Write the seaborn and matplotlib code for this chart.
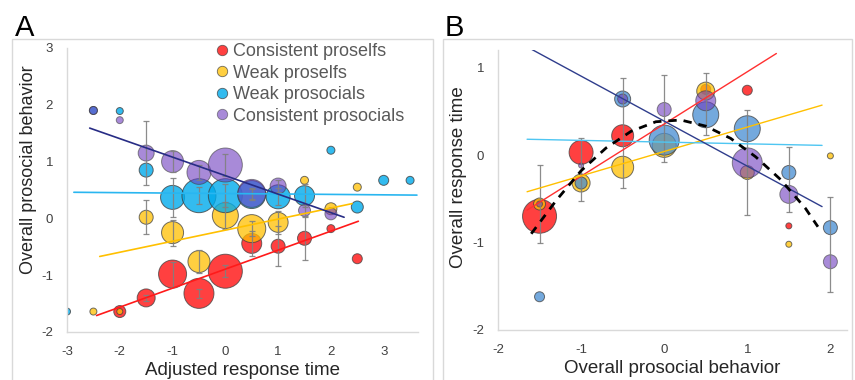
import matplotlib
matplotlib.use("Agg")
import matplotlib.pyplot as plt
import seaborn as sns
from matplotlib.lines import Line2D
from matplotlib.patches import Rectangle

sns.set_theme(style="white")
plt.rcParams['font.family'] = ['Liberation Sans', 'DejaVu Sans']
plt.rcParams['axes.unicode_minus'] = False

groups = ["Consistent proselfs", "Weak proselfs", "Weak prosocials", "Consistent prosocials"]

# ---------- panel A: adjusted response time vs prosocial behavior ----------
a_red_x = [-2, -1.5, -1, -0.5, 0, 0.5, 1, 1.5, 2, 2.5]
a_red_y = [-1.64, -1.40, -0.98, -1.32, -0.93, -0.44, -0.49, -0.35, -0.18, -0.71]
a_red_n = [6, 9, 14, 15, 17, 10, 7, 7, 4, 5]
a_red_err = [0, 0.05, 0.22, 0.08, 0.11, 0.22, 0.35, 0.38, 0, 0]

a_yel_x = [-2.5, -2, -1.5, -1, -0.5, 0, 0.5, 1, 1.5, 2, 2.5]
a_yel_y = [-1.64, -1.64, 0.02, -0.25, -0.76, 0.05, -0.18, -0.07, 0.67, 0.17, 0.55]
a_yel_n = [3.5, 3, 7, 11, 11, 13, 14, 10, 4, 6, 4]
a_yel_err = [0, 0, 0.3, 0.23, 0.2, 0.24, 0.13, 0.2, 0, 0, 0]

a_cya_x = [-3, -2.5, -2, -1.5, -1, -0.5, 0, 0.5, 1, 1.5, 2, 2.5, 3, 3.5]
a_cya_y = [-1.64, 1.90, 1.89, 0.85, 0.37, 0.40, 0.40, 0.42, 0.38, 0.40, 1.20, 0.20, 0.67, 0.67]
a_cya_n = [3.5, 4, 3.5, 7, 12, 17, 17, 14, 12, 10, 4, 6, 5, 4]
a_cya_err = [0, 0, 0, 0, 0.35, 0.15, 0.2, 0.1, 0.15, 0.2, 0, 0, 0, 0]

a_pur_x = [-2.5, -2, -1.5, -1, -0.5, 0, 0.5, 1, 1.5, 2]
a_pur_y = [1.90, 1.73, 1.15, 1.00, 0.81, 0.94, 0.44, 0.57, 0.14, 0.08]
a_pur_n = [4, 3.5, 8, 11, 12, 17, 14, 8, 6, 6]
a_pur_err = [0, 0, 0.57, 0.18, 0.13, 0.2, 0.1, 0.1, 0.1, 0]

# trend lines (start/end)
a_trend_x = [(-2.44, 2.52), (-2.38, 2.40), (-2.87, 3.63), (-2.57, 2.25)]
a_trend_y = [(-1.71, -0.05), (-0.67, 0.26), (0.46, 0.41), (1.59, 0.02)]

# ---------- panel B: prosocial behavior vs response time ----------
b_red_x = [-1.5, -1, -0.5, 0.5, 1, 1.5]
b_red_y = [-0.70, 0.03, 0.22, 0.75, 0.74, -0.81]
b_red_n = [17, 12, 11, 5, 5, 3]

b_yel_x = [-1.5, -1, -0.5, 0, 0.5, 1, 1.5, 2]
b_yel_y = [-0.56, -0.32, -0.14, 0.11, 0.73, -0.20, -1.02, -0.01]
b_yel_n = [6, 9, 11, 12, 9, 7, 3, 3]

b_blu_x = [-1.5, -1, -0.5, 0, 0.5, 1, 1.5, 2]
b_blu_y = [-1.62, -0.32, 0.64, 0.17, 0.46, 0.30, -0.20, -0.83]
b_blu_n = [5, 6, 8, 15, 13, 13, 7, 7]

b_pur_x = [-1.5, -1, -0.5, 0, 0.5, 1, 1.5, 2]
b_pur_y = [-0.56, -0.12, 0.64, 0.52, 0.62, -0.09, -0.45, -1.22]
b_pur_n = [3, 2.5, 5, 7, 10, 15, 9, 7]

b_err_x = [-1.5, -1, -0.5, 0, 0.5, 1, 1.5, 2]
b_err_lo = [-1.00, -0.53, -0.38, -0.08, 0.23, -0.69, -0.65, -1.56]
b_err_hi = [-0.11, 0.20, 0.88, 0.91, 0.94, 0.52, 0.09, -0.48]

b_trend_x = [(-1.65, 1.35), (-1.65, 1.90), (-1.65, 1.90), (-1.60, 1.90)]
b_trend_y = [(-0.63, 1.16), (-0.42, 0.57), (0.18, 0.11), (1.21, -0.59)]

# quadratic (dashed) curve, points read along it
curve_x = [-1.6, -1.3, -1.0, -0.7, -0.4, -0.1, 0.2, 0.5, 0.8, 1.1, 1.4, 1.7, 1.85]
curve_y = [-0.90, -0.52, -0.18, 0.08, 0.27, 0.38, 0.40, 0.33, 0.19, -0.02, -0.28, -0.61, -0.82]

# colours
a_colors = ["#ff0000", "#ffc000", "#00aaeb", "#6e3cbe"]
a_alphas = [0.75, 0.75, 0.8, 0.6]
a_line_colors = ["#ff1a1a", "#ffc000", "#29b6f0", "#272c85"]
b_colors = ["#ff0000", "#ffc000", "#468cd2", "#6e3cbe"]
b_alphas = [0.75, 0.75, 0.75, 0.6]
b_line_colors = ["#ff3030", "#ffc000", "#4fc6f2", "#2f3d8c"]


def area(r):
    # radius in pixels -> marker area in pt^2
    return [(2 * v * 0.72) ** 2 for v in r]


fig = plt.figure(figsize=(8.55, 3.8), dpi=100)
W, H = 855, 380
axA = fig.add_axes([67 / W, 1 - 332 / H, (418 - 67) / W, (332 - 48) / H])
axB = fig.add_axes([498 / W, 1 - 330 / H, (847 - 498) / W, (330 - 50) / H])

# panel A marks
a_sets = [(a_red_x, a_red_y, a_red_n, a_red_err),
          (a_yel_x, a_yel_y, a_yel_n, a_yel_err),
          (a_cya_x, a_cya_y, a_cya_n, a_cya_err),
          (a_pur_x, a_pur_y, a_pur_n, a_pur_err)]
for i, (x, y, n, e) in enumerate(a_sets):
    sns.scatterplot(x=x, y=y, s=area(n), color=a_colors[i], alpha=a_alphas[i],
                    edgecolor="#404040", linewidth=0.7, ax=axA, zorder=2, legend=False)
    ex = [xx for xx, ee in zip(x, e) if ee > 0]
    ey = [yy for yy, ee in zip(y, e) if ee > 0]
    ee = [v for v in e if v > 0]
    axA.errorbar(ex, ey, yerr=ee, fmt="none", ecolor="#808080", elinewidth=0.9,
                 capsize=2, capthick=0.9, alpha=0.9, zorder=3)
for i in range(4):
    sns.lineplot(x=list(a_trend_x[i]), y=list(a_trend_y[i]), color=a_line_colors[i],
                 lw=1.2, ax=axA, zorder=4)

# panel B marks
b_sets = [(b_red_x, b_red_y, b_red_n), (b_yel_x, b_yel_y, b_yel_n),
          (b_blu_x, b_blu_y, b_blu_n), (b_pur_x, b_pur_y, b_pur_n)]
for i, (x, y, n) in enumerate(b_sets):
    sns.scatterplot(x=x, y=y, s=area(n), color=b_colors[i], alpha=b_alphas[i],
                    edgecolor="#404040", linewidth=0.7, ax=axB, zorder=2, legend=False)
mid = [(lo + hi) / 2 for lo, hi in zip(b_err_lo, b_err_hi)]
half = [(hi - lo) / 2 for lo, hi in zip(b_err_lo, b_err_hi)]
axB.errorbar(b_err_x, mid, yerr=half, fmt="none", ecolor="#808080", elinewidth=0.9,
             capsize=2, capthick=0.9, alpha=0.9, zorder=3)
for i in range(4):
    sns.lineplot(x=list(b_trend_x[i]), y=list(b_trend_y[i]), color=b_line_colors[i],
                 lw=1.0, ax=axB, zorder=4)
sns.lineplot(x=curve_x, y=curve_y, color="black", lw=2.0, ax=axB, zorder=5,
             dashes=False, linestyle=(0, (3, 2.5)))

# axes styling
for ax, xl, yl, xt, yt in [(axA, (-3, 3.65), (-2, 3), range(-3, 4), range(-2, 4)),
                           (axB, (-2, 2.2), (-2, 1.2), range(-2, 3), range(-2, 2))]:
    ax.set_xlim(*xl)
    ax.set_ylim(*yl)
    ax.set_xticks(list(xt))
    ax.set_yticks(list(yt))
    for s in ["top", "right"]:
        ax.spines[s].set_visible(False)
    for s in ["left", "bottom"]:
        ax.spines[s].set_color("#d9d9d9")
        ax.spines[s].set_linewidth(1.0)
    ax.tick_params(length=0, labelsize=9.5, colors="#404040", pad=10)
    ax.set_facecolor("none")

axA.set_xlabel("Adjusted response time", fontsize=13.5, color="#262626", labelpad=3)
axA.set_ylabel("Overall prosocial behavior", fontsize=13, color="#262626")
axA.yaxis.set_label_coords(-0.085, 0.57)
axB.set_xlabel("Overall prosocial behavior", fontsize=13.5, color="#262626", labelpad=3)
axB.set_ylabel("Overall response time", fontsize=13.5, color="#262626")
axB.yaxis.set_label_coords(-0.089, 0.546)

handles = [Line2D([], [], marker="o", ls="", markersize=7.5, markerfacecolor=c,
                  markeredgecolor="#404040", markeredgewidth=0.6, alpha=a)
           for c, a in zip(a_colors, a_alphas)]
leg = axA.legend(handles, groups, loc="upper left", bbox_to_anchor=(204 / W, 1 - 34 / H),
                 bbox_transform=fig.transFigure, frameon=False, fontsize=13,
                 labelspacing=0.25, handletextpad=0.1, handlelength=1.0, borderpad=0)
for t in leg.get_texts():
    t.set_color("#595959")

# panel frames and letters
fig.add_artist(Rectangle((12 / W, -0.1), (433 - 12) / W, 1.1 - 39 / H, transform=fig.transFigure,
                         fill=False, ec="#d9d9d9", lw=1.0))
fig.add_artist(Rectangle((443 / W, -0.1), (852 - 443) / W, 1.1 - 39 / H, transform=fig.transFigure,
                         fill=False, ec="#d9d9d9", lw=1.0))
fig.text(15 / W, 1 - 36 / H, "A", fontsize=21, color="black", ha="left", va="baseline")
fig.text(445 / W, 1 - 36 / H, "B", fontsize=21, color="black", ha="left", va="baseline")

fig.savefig("out.png", dpi=100)
